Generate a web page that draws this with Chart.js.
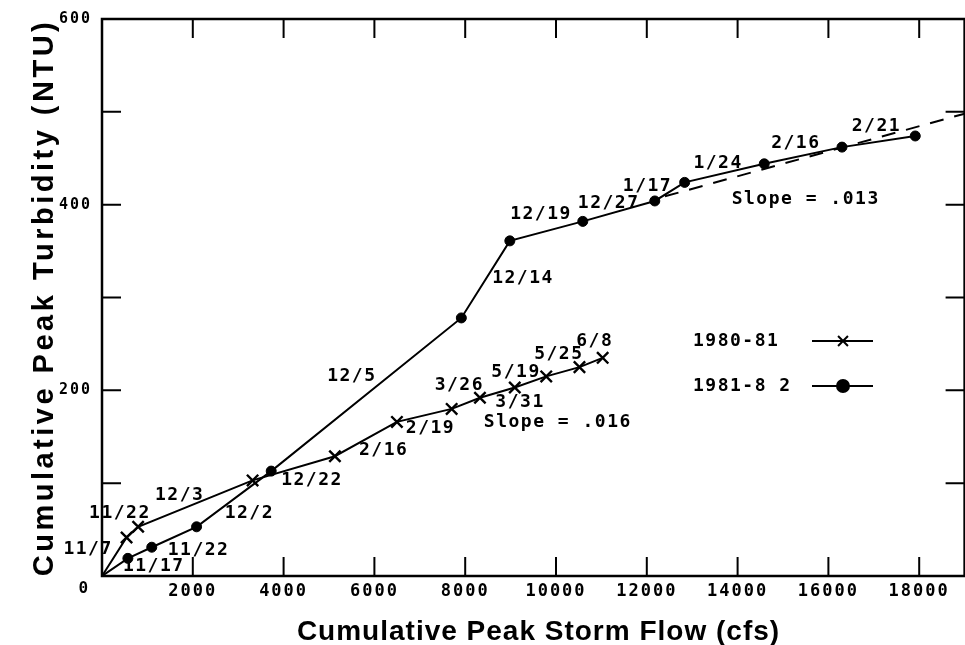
<!DOCTYPE html>
<html>
<head>
<meta charset="utf-8">
<script src="https://cdn.jsdelivr.net/npm/chart.js@4.4.1/dist/chart.umd.min.js"></script>
<style>
  html, body { margin: 0; padding: 0; background: #fff; overflow: hidden; }
  #wrap { width: 975px; height: 645px; }
</style>
</head>
<body>
<div id="wrap"><canvas id="chart" width="975" height="645"></canvas></div>
<script>
// Storm-by-storm cumulative totals: peak storm flow (cfs) vs peak turbidity (NTU)
const flow8081 = [0, 541, 796, 3317, 5130, 6496, 7702, 8325, 9092, 9785, 10517, 11028];
const turb8081 = [0, 41.5, 53, 103, 129, 166, 180, 192, 203, 215, 225, 235];

const flow8182 = [0, 570, 1096, 2083, 3727, 7915, 8983, 10590, 12176, 12834, 14587, 16299, 17913];
const turb8182 = [0, 19, 31, 53, 113, 278, 361, 382, 404, 424, 444, 462, 474];

// fitted trend for the later 1981-82 storms
const slopeFlow = [12400, 19000];
const slopeTurb = [409, 498];

// axis ticks
const xTickValues = [2000, 4000, 6000, 8000, 10000, 12000, 14000, 16000, 18000];
const yTickValues = [100, 200, 300, 400, 500];
const yLabelValues = [200, 400, 600];

// storm dates and slope notes, placed in data units
const noteText = ['11/7', '11/22', '12/3', '2/16', '2/19', '3/26', '3/31', '5/19', '5/25', '6/8', 'Slope = .016',
                  '11/17', '11/22', '12/2', '12/22', '12/5', '12/14', '12/19', '12/27', '1/17', '1/24', '2/16', '2/21', 'Slope = .013'];
const noteFlow = [-307, 395, 1710, 6205, 7235, 7871, 9208, 9120, 10063, 10853, 10041,
                  1140, 2127, 3245, 4626, 5503, 9274, 9669, 11160, 12015, 13571, 15282, 17058, 15500];
const noteTurb = [29, 67.6, 86.9, 135, 158.9, 205, 186.8, 219, 239, 253, 165,
                  10.7, 27.9, 67.6, 103, 214.7, 321, 389.6, 401, 419.7, 444.4, 465.8, 484, 405.7];

const legendText = ['1980-81', '1981-8 2'];

const MONO = '"DejaVu Sans Mono", monospace';
const SANS = '"Liberation Sans", Arial, sans-serif';

const xy = (xs, ys) => xs.map((x, i) => ({ x: x, y: ys[i] }));

// frame and inward tick marks on all four sides
const frameTicks = {
  id: 'frameTicks',
  afterDatasetsDraw(chart) {
    const { ctx, chartArea: a, scales: { x, y } } = chart;
    const L = 19;
    ctx.save();
    ctx.strokeStyle = '#000';
    ctx.lineWidth = 2;
    ctx.beginPath();
    yTickValues.forEach(v => {
      const py = y.getPixelForValue(v);
      ctx.moveTo(a.left, py); ctx.lineTo(a.left + L, py);
      ctx.moveTo(a.right, py); ctx.lineTo(a.right - L, py);
    });
    xTickValues.forEach(v => {
      const px = x.getPixelForValue(v);
      ctx.moveTo(px, a.bottom); ctx.lineTo(px, a.bottom - L);
      ctx.moveTo(px, a.top); ctx.lineTo(px, a.top + L);
    });
    ctx.stroke();
    ctx.lineWidth = 2.5;
    ctx.strokeRect(a.left, a.top, a.right - a.left, a.bottom - a.top);
    ctx.restore();
  }
};

// text: axis titles, origin label, storm notes and legend
const textLayer = {
  id: 'textLayer',
  beforeDraw(chart) {
    chart.ctx.letterSpacing = '2px';
  },
  beforeDatasetsDraw(chart) {
    chart.ctx.letterSpacing = '0px';
  },
  afterDraw(chart) {
    const { ctx, chartArea: a, scales: { x, y } } = chart;
    ctx.save();
    ctx.fillStyle = '#000';
    ctx.strokeStyle = '#000';

    // notes
    ctx.font = 'bold 18px ' + MONO;
    ctx.letterSpacing = '1.5px';
    ctx.textAlign = 'center';
    ctx.textBaseline = 'middle';
    noteText.forEach((t, i) => {
      ctx.fillText(t, x.getPixelForValue(noteFlow[i]), y.getPixelForValue(noteTurb[i]));
    });

    // origin label
    ctx.font = 'bold 16px ' + MONO;
    ctx.fillText('0', x.getPixelForValue(0) - 18, y.getPixelForValue(0) + 13);

    // legend
    ctx.font = 'bold 18px ' + MONO;
    const ds = chart.data.datasets;
    legendText.forEach((t, i) => {
      const cy = a.top + 322 + i * 45;
      ctx.textAlign = 'left';
      ctx.fillText(t, a.left + 591, cy);
      const d = ds[i];
      ctx.lineWidth = d.borderWidth;
      ctx.beginPath();
      ctx.moveTo(a.left + 710, cy);
      ctx.lineTo(a.left + 771, cy);
      ctx.stroke();
      Chart.helpers.drawPoint(ctx, {
        pointStyle: d.pointStyle,
        radius: d.legendRadius,
        borderWidth: d.pointBorderWidth,
        rotation: 0
      }, a.left + 741, cy);
      ctx.fill();
    });

    // axis titles
    ctx.textAlign = 'center';
    ctx.textBaseline = 'middle';
    ctx.font = 'bold 28px ' + SANS;
    ctx.letterSpacing = '1px';
    ctx.fillText('Cumulative Peak Storm Flow (cfs)', (a.left + 975) / 2, 632);

    ctx.save();
    ctx.font = 'bold 29px ' + SANS;
    ctx.letterSpacing = '3.5px';
    ctx.translate(45, (a.top + a.bottom) / 2);
    ctx.rotate(-Math.PI / 2);
    ctx.fillText('Cumulative Peak Turbidity (NTU)', 0, 0);
    ctx.restore();

    ctx.restore();
  }
};

const plainNumber = v => String(v);

new Chart(document.getElementById('chart'), {
  type: 'scatter',
  data: {
    datasets: [
      {
        label: '1980-81',
        data: xy(flow8081, turb8081),
        showLine: true,
        borderColor: '#000',
        borderWidth: 2,
        pointStyle: 'crossRot',
        pointRadius: c => c.dataIndex === 0 ? 0 : 8,
        legendRadius: 7,
        pointBorderWidth: 2.4,
        pointBorderColor: '#000',
        pointBackgroundColor: '#000'
      },
      {
        label: '1981-82',
        data: xy(flow8182, turb8182),
        showLine: true,
        borderColor: '#000',
        borderWidth: 2,
        pointStyle: 'circle',
        pointRadius: c => c.dataIndex === 0 ? 0 : 5,
        legendRadius: 6,
        pointBorderWidth: 1,
        pointBorderColor: '#000',
        pointBackgroundColor: '#000'
      },
      {
        label: 'Slope = .013',
        data: xy(slopeFlow, slopeTurb),
        showLine: true,
        borderColor: '#000',
        borderWidth: 2,
        borderDash: [14, 11],
        pointRadius: 0
      }
    ]
  },
  options: {
    responsive: false,
    animation: false,
    events: [],
    layout: { padding: { left: 0, top: 17, right: 6.4, bottom: 0 } },
    plugins: { legend: { display: false }, tooltip: { enabled: false } },
    scales: {
      x: {
        type: 'linear',
        min: 0,
        max: 19000,
        grid: { display: false, drawTicks: false },
        border: { display: false },
        ticks: { color: '#000', padding: 5, callback: plainNumber,
                 font: { family: MONO, weight: 'bold', size: 17 } },
        afterBuildTicks: s => { s.ticks = xTickValues.map(v => ({ value: v })); },
        afterFit: s => { s.height = 69; }
      },
      y: {
        type: 'linear',
        min: 0,
        max: 600,
        grid: { display: false, drawTicks: false },
        border: { display: false },
        ticks: { color: '#000', padding: 10, callback: plainNumber,
                 font: { family: MONO, weight: 'bold', size: 15 } },
        afterBuildTicks: s => { s.ticks = yLabelValues.map(v => ({ value: v })); },
        afterFit: s => { s.width = 102; }
      }
    }
  },
  plugins: [frameTicks, textLayer]
});
</script>
</body>
</html>
